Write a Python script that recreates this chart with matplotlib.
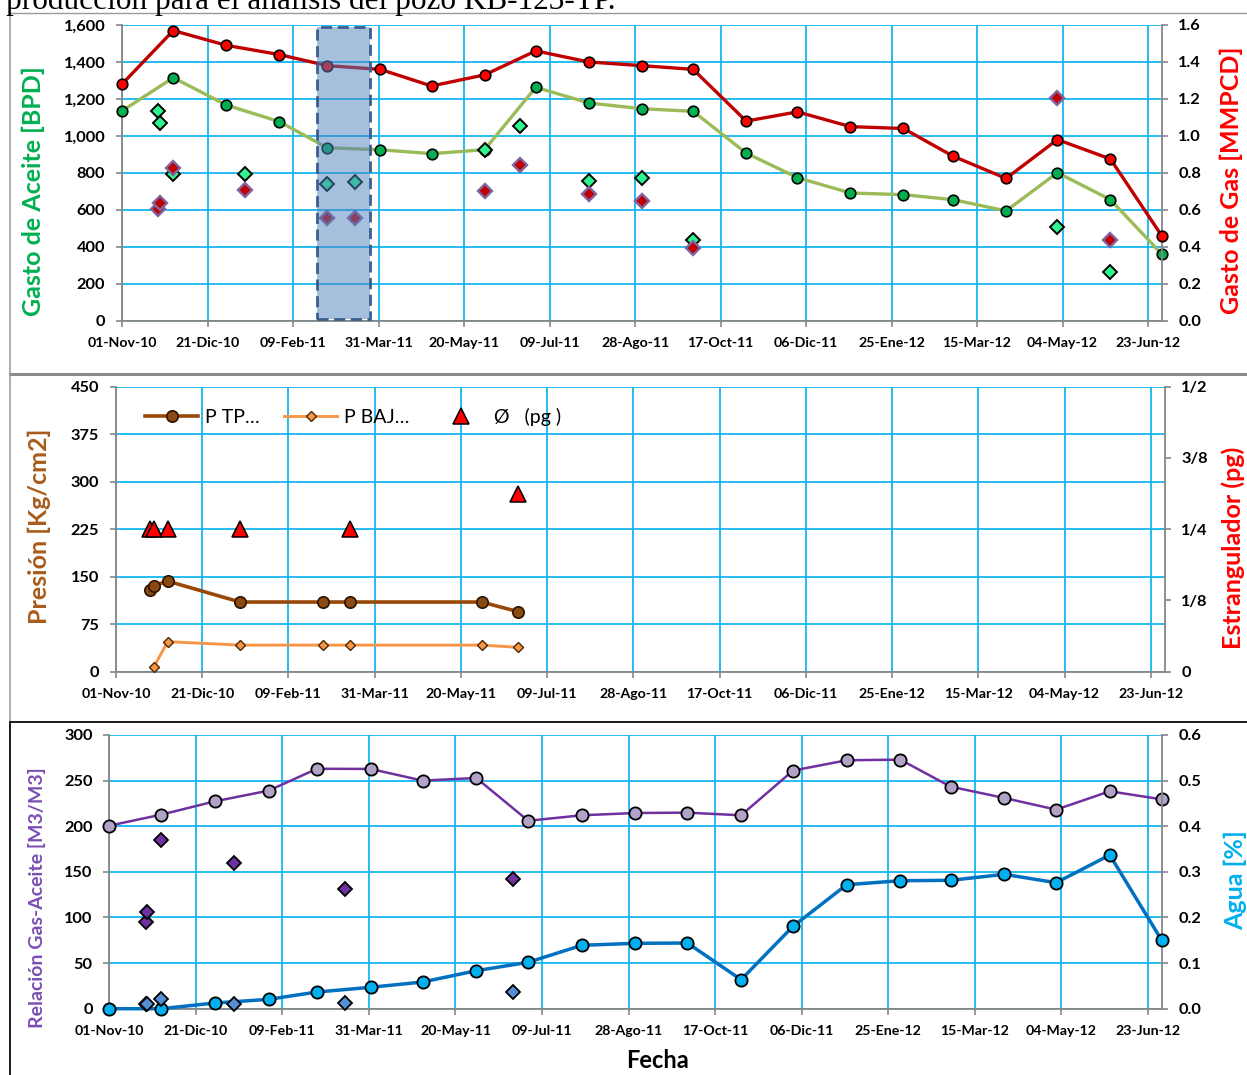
import numpy as np
import pandas as pd
import matplotlib
matplotlib.use('Agg')
import matplotlib.pyplot as plt
import matplotlib.dates as mdates
from matplotlib.lines import Line2D
from matplotlib.patches import Rectangle
from matplotlib.ticker import FuncFormatter

plt.rcParams['font.family'] = ['Lato', 'DejaVu Sans']
plt.rcParams['font.weight'] = 'bold'

# ---- data ------------------------------------------------------------------
meses = pd.date_range('2010-11-01', '2012-07-01', freq='MS')

aceite = [1135, 1315, 1167, 1077, 936, 925, 904, 925, 1263, 1178, 1147,
          1133, 907, 774, 691, 682, 655, 594, 801, 655, 361]
gas = [1.28, 1.57, 1.49, 1.44, 1.38, 1.36, 1.27, 1.33, 1.46, 1.40, 1.38,
       1.36, 1.08, 1.13, 1.05, 1.04, 0.89, 0.77, 0.98, 0.875, 0.46]

aforo_fechas = pd.to_datetime(['2010-11-22', '2010-11-23', '2010-12-01', '2011-01-12',
                               '2011-03-01', '2011-03-17', '2011-06-01', '2011-06-22',
                               '2011-08-01', '2011-09-01', '2011-10-01', '2012-05-01',
                               '2012-06-01'])
aforo_aceite = [1133, 1068, 794, 792, 738, 752, 925, 1053, 756, 774, 437, 509, 262]
aforo_gas = [0.603, 0.637, 0.825, 0.707, 0.554, 0.554, 0.703, 0.841, 0.684,
             0.648, 0.395, 1.203, 0.437]

presion_fechas = pd.to_datetime(['2010-11-21', '2010-11-23', '2010-12-01', '2011-01-12',
                                 '2011-03-01', '2011-03-17', '2011-06-01', '2011-06-22'])
p_tp = [129, 136, 143, 110, 110, 110, 110, 95]
p_baj = [np.nan, 7.4, 47.4, 42, 42, 42, 42, 38.5]
estrangulador = [0.25, 0.25, 0.25, 0.25, np.nan, 0.25, np.nan, 0.3125]

rga = [200.6, 212.7, 227.3, 239, 263, 262.8, 250, 252.9, 206, 212, 214.5,
       214.9, 212, 261, 272.3, 273, 243.4, 231, 218.2, 238.3, 229.5]
agua = [0.0, 0.0, 0.0125, 0.0205, 0.0366, 0.0469, 0.0585, 0.0833, 0.1017, 0.139,
        0.1433, 0.144, 0.0636, 0.1806, 0.2718, 0.2806, 0.2814, 0.2946, 0.2762,
        0.3369, 0.150]

rga_fechas = pd.to_datetime(['2010-11-22', '2010-11-23', '2010-12-01', '2011-01-12',
                             '2011-03-17', '2011-06-22'])
rga_aforo = [95, 106, 185, 160, 131, 142]
agua_aforo = [0.010, 0.010, 0.021, 0.010, 0.012, 0.037]

ventana = ('2011-02-23', '2011-03-26')   # periodo resaltado en el panel superior

x_labels = ['01-Nov-10', '21-Dic-10', '09-Feb-11', '31-Mar-11', '20-May-11', '09-Jul-11',
            '28-Ago-11', '17-Oct-11', '06-Dic-11', '25-Ene-12', '15-Mar-12', '04-May-12',
            '23-Jun-12']
x_ticks = pd.date_range('2010-11-01', periods=len(x_labels), freq='50D')
x_min, x_max = pd.Timestamp('2010-11-01'), pd.Timestamp('2012-07-01')

estr_ticks = [0, 0.125, 0.25, 0.375, 0.5]
estr_labels = ['0', '1/8', '1/4', '3/8', '1/2']

# ---- figure -----------------------------------------------------------------
W, H = 1247, 1075
fig = plt.figure(figsize=(W / 100, H / 100), dpi=100)


def box(l, t, r, b):
    return [l / W, 1 - b / H, (r - l) / W, (b - t) / H]


GRID = '#00B0F0'
SPINE = '#868686'


def style(ax, axr, yfmt=None):
    ax.set_xlim(x_min, x_max)
    ax.set_xticks(x_ticks)
    ax.set_xticklabels(x_labels)
    ax.grid(True, color=GRID, lw=1.2)
    ax.set_axisbelow(True)
    for s in ['top', 'right']:
        ax.spines[s].set_visible(False)
    for s in ['left', 'bottom']:
        ax.spines[s].set_color(SPINE)
        ax.spines[s].set_linewidth(1.3)
    for s in ['top', 'left', 'bottom']:
        axr.spines[s].set_visible(False)
    axr.spines['right'].set_color(SPINE)
    axr.spines['right'].set_linewidth(1.3)
    ax.tick_params(axis='x', length=4, width=1.2, color=SPINE, labelsize=10.2, pad=8)
    ax.tick_params(axis='y', length=4, width=1.2, color=SPINE, labelsize=11.8, pad=8)
    axr.tick_params(axis='y', length=4, width=1.2, color=SPINE, labelsize=11.8, pad=8)
    if yfmt:
        ax.yaxis.set_major_formatter(yfmt)


# ---- panel 1: gastos --------------------------------------------------------
ax1 = fig.add_axes(box(122, 25, 1161.7, 320.7))
ax1b = ax1.twinx()
ax1.plot(meses, aceite, color='#9BBB59', lw=2.4, marker='o', ms=7.6,
         mfc='#00B050', mec='black', mew=1.2, clip_on=False, zorder=3)
ax1.plot(aforo_fechas, aforo_aceite, ls='none', marker='D', ms=6.9,
         mfc='#2EF58F', mec='black', mew=1.4, clip_on=False, zorder=4)
ax1b.plot(meses, gas, color='#C00000', lw=2.4, marker='o', ms=7.6,
          mfc='#FF0000', mec='black', mew=1.2, clip_on=False, zorder=3)
ax1b.plot(aforo_fechas, aforo_gas, ls='none', marker='D', ms=6.9,
          mfc='#C00000', mec='#8064A2', mew=1.7, clip_on=False, zorder=4)
ax1.set_ylim(0, 1600)
ax1.set_yticks(range(0, 1601, 200))
ax1b.set_ylim(0, 1.6)
ax1b.set_yticks(np.arange(0, 1.61, 0.2))
ax1b.yaxis.set_major_formatter(FuncFormatter(lambda v, p: f'{v:.1f}'))
style(ax1, ax1b, FuncFormatter(lambda v, p: f'{v:,.0f}'))

v0, v1 = mdates.date2num(pd.Timestamp(ventana[0])), mdates.date2num(pd.Timestamp(ventana[1]))
ax1b.add_patch(Rectangle((v0, 10), v1 - v0, 1580, transform=ax1.transData,
                         facecolor='#4F81BD', alpha=0.5, edgecolor='none', zorder=6))
ax1b.add_patch(Rectangle((v0, 10), v1 - v0, 1580, transform=ax1.transData,
                         facecolor='none', edgecolor='#3A5F8F', lw=2, ls=(0, (4, 2)), zorder=7))

# ---- panel 2: presiones -----------------------------------------------------
ax2 = fig.add_axes(box(115.9, 386.7, 1164.6, 671.7))
ax2b = ax2.twinx()
l_tp, = ax2.plot(presion_fechas, p_tp, color='#984807', lw=2.6, marker='o', ms=8.2,
                 mfc='#8B4A12', mec='#2B1400', mew=1.2, clip_on=False, zorder=3,
                 label='P TP…')
l_baj, = ax2.plot(presion_fechas, p_baj, color='#F79646', lw=2.1, marker='D', ms=5,
                  mfc='#F79646', mec='#4A2800', mew=1.0, clip_on=False, zorder=3,
                  label='P BAJ…')
l_est, = ax2b.plot(presion_fechas, estrangulador, ls='none', marker='^', ms=11,
                   mfc='#FF0000', mec='black', mew=1.1, clip_on=False, zorder=4,
                   label='Ø   (pg )')
ax2.set_ylim(0, 450)
ax2.set_yticks(range(0, 451, 75))
ax2b.set_ylim(0, 0.5)
ax2b.set_yticks(estr_ticks)
ax2b.set_yticklabels(estr_labels)
style(ax2, ax2b)
leg = ax2b.legend(handles=[l_tp, l_baj, l_est], ncol=3, frameon=False,
                  loc='center left', bbox_to_anchor=(0.028, 0.895),
                  borderaxespad=0, borderpad=0, handlelength=2.7, handletextpad=0.35,
                  columnspacing=1.3, prop={'family': ['Lato', 'DejaVu Sans'],
                                           'weight': 'normal', 'size': 14})

# ---- panel 3: RGA y agua ----------------------------------------------------
ax3 = fig.add_axes(box(109.3, 735, 1161.7, 1008.7))
ax3b = ax3.twinx()
ax3.plot(meses, rga, color='#7030A0', lw=1.8, marker='o', ms=8.8,
         mfc='#B3A2C7', mec='black', mew=1.3, clip_on=False, zorder=3)
ax3.plot(rga_fechas, rga_aforo, ls='none', marker='D', ms=6.8,
         mfc='#7030A0', mec='black', mew=1.3, clip_on=False, zorder=4)
ax3b.plot(meses, agua, color='#0070C0', lw=2.5, marker='o', ms=8.8,
          mfc='#00B0F0', mec='black', mew=1.3, clip_on=False, zorder=3)
ax3b.plot(rga_fechas, agua_aforo, ls='none', marker='D', ms=6.8,
          mfc='#558ED5', mec='black', mew=1.3, clip_on=False, zorder=4)
ax3.set_ylim(0, 300)
ax3.set_yticks(range(0, 301, 50))
ax3b.set_ylim(0, 0.6)
ax3b.set_yticks(np.arange(0, 0.61, 0.1))
ax3b.yaxis.set_major_formatter(FuncFormatter(lambda v, p: f'{v:.1f}'))
style(ax3, ax3b)

# ---- axis titles ------------------------------------------------------------
def vlabel(x, y, s, color, size=18):
    fig.text(x / W, 1 - y / H, s, rotation=90, ha='center', va='center',
             color=color, fontsize=size, fontweight='bold')


vlabel(33, 191.5, 'Gasto de Aceite [BPD]', '#00B050')
vlabel(1231, 180, 'Gasto de Gas [MMPCD]', '#FF0000')
vlabel(39.5, 526, 'Presión [Kg/cm2]', '#A85C1C')
vlabel(1233, 548, 'Estrangulador (pg)', '#FF0000')
vlabel(37, 898, 'Relación Gas-Aceite [M3/M3]', '#7B4FB3', size=14)
vlabel(1235, 880, 'Agua [%]', '#00B0F0')
fig.text(657.5 / W, 1 - 1060 / H, 'Fecha', ha='center', va='center',
         fontsize=17, fontweight='bold', color='black')

# caption cut by the top edge, as in the source page
fig.text(6 / W, 1 - 9 / H, 'producción para el análisis del pozo KB-123-TP.',
         family='Liberation Serif', fontweight='normal', fontsize=22.5,
         ha='left', va='baseline')

# ---- panel frames -----------------------------------------------------------
def fline(x0, y0, x1, y1, color, lw):
    fig.add_artist(Line2D([x0 / W, x1 / W], [1 - y0 / H, 1 - y1 / H],
                          transform=fig.transFigure, color=color, lw=lw))


fline(9.5, 12.5, W, 12.5, '#9A9A9A', 1.0)
fline(9.5, 12.5, 9.5, 374, '#9A9A9A', 1.1)
fline(9.5, 374, W, 374, '#8C8C8C', 2.2)
fline(9.5, 374, 9.5, 721, '#9A9A9A', 1.1)
fline(9.5, 721.5, W, 721.5, '#1A1A1A', 1.4)
fline(9.5, 721.5, 9.5, H, '#1A1A1A', 1.4)

fig.savefig('out.png', dpi=100)
